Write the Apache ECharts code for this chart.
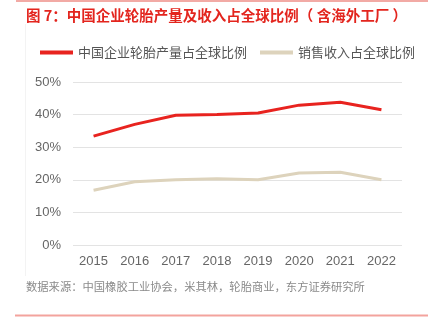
<!DOCTYPE html>
<html><head><meta charset="utf-8">
<script src="https://cdn.jsdelivr.net/npm/echarts@6/dist/echarts.min.js"></script>
<style>html,body{margin:0;padding:0;background:#fff}#c{width:437px;height:330px}</style>
</head><body><div id="c"></div>
<script>
const categories = ['2015','2016','2017','2018','2019','2020','2021','2022'];
const productionShare = [33.4, 37.0, 39.8, 40.0, 40.5, 42.9, 43.8, 41.5];
const revenueShare = [16.8, 19.4, 20.0, 20.3, 20.0, 22.1, 22.3, 20.0];
const seriesNames = ['中国企业轮胎产量占全球比例', '销售收入占全球比例'];
const titleText = '图 7：中国企业轮胎产量及收入占全球比例（ 含海外工厂 ）';
const sourceText = '数据来源：中国橡胶工业协会，米其林，轮胎商业，东方证券研究所';

const font = '"Noto Sans CJK SC", "Noto Sans", sans-serif';
const latin = '"Liberation Sans", Arial, sans-serif';
const chart = echarts.init(document.getElementById('c'), null, {renderer: 'canvas'});
chart.setOption({
  animation: false,
  textStyle: {fontFamily: font},
  title: {
    text: titleText, left: 21, top: 3,
    textStyle: {color: '#e3251e', fontSize: 14.5, fontWeight: 'bold', fontFamily: font}
  },
  legend: {
    top: 41, left: 35, itemWidth: 33, itemHeight: 4, itemGap: 13,
    icon: 'rect',
    textStyle: {color: '#555', fontSize: 13, fontFamily: font},
    data: seriesNames
  },
  grid: {left: 73, right: 35, top: 82, bottom: 85},
  xAxis: {
    type: 'category', data: categories, boundaryGap: true,
    axisLine: {show: false}, axisTick: {show: false},
    axisLabel: {color: '#666', fontSize: 13, margin: 10, fontFamily: latin}
  },
  yAxis: {
    type: 'value', min: 0, max: 50, interval: 10,
    axisLabel: {formatter: '{value}%', color: '#666', fontSize: 13, margin: 12, fontFamily: latin},
    splitLine: {lineStyle: {color: '#e3e3e3', width: 1}},
    axisLine: {show: false}, axisTick: {show: false}
  },
  series: [
    {name: seriesNames[0], type: 'line', data: productionShare, symbol: 'none',
     lineStyle: {color: '#e8231f', width: 3}, itemStyle: {color: '#e8231f'}},
    {name: seriesNames[1], type: 'line', data: revenueShare, symbol: 'none',
     lineStyle: {color: '#ddd3bc', width: 3}, itemStyle: {color: '#ddd3bc'}}
  ],
  graphic: [
    {type: 'rect', shape: {x: 16, y: 0, width: 412, height: 2}, style: {fill: '#f2aaa5'}},
    {type: 'line', shape: {x1: 25.5, y1: 24, x2: 25.5, y2: 276}, style: {stroke: '#f3f3f3', lineWidth: 1}},
    {type: 'text', left: 26, top: 281, style: {text: sourceText, fill: '#8a8a8a', fontSize: 11.3, fontFamily: font}},
    {type: 'rect', shape: {x: 15, y: 314.5, width: 413, height: 2}, style: {fill: '#f3a39d'}}
  ]
});
</script></body></html>
